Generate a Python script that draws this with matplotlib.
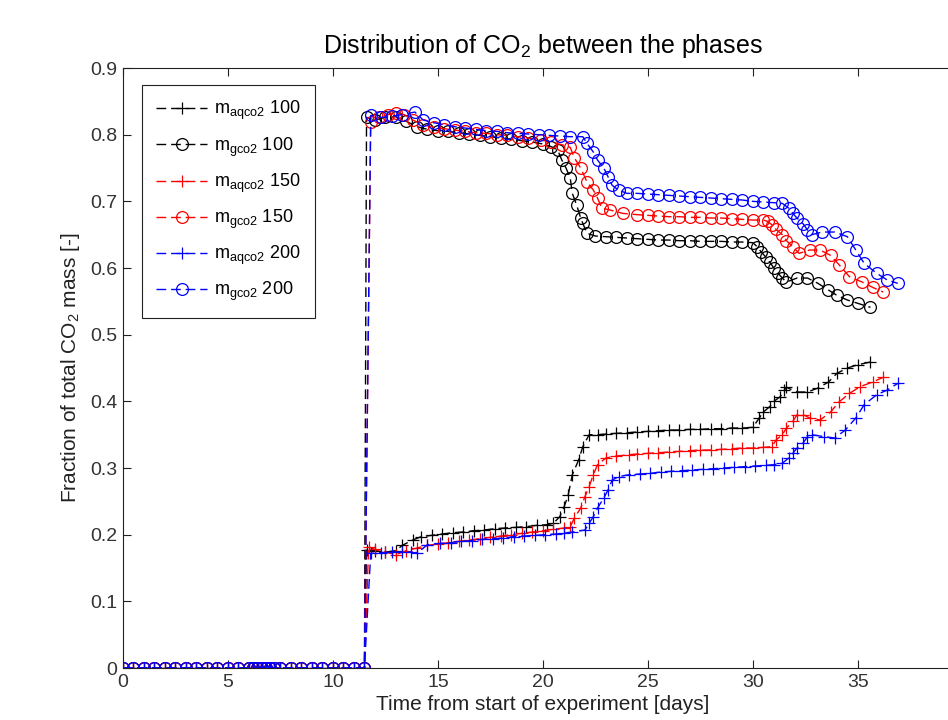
import matplotlib
matplotlib.use("Agg")
import matplotlib.pyplot as plt

plt.rcParams['font.family'] = ['Liberation Sans', 'DejaVu Sans']
plt.rcParams['mathtext.fontset'] = 'custom'
plt.rcParams['mathtext.rm'] = 'Liberation Sans'

# time before the CO2 injection (all masses zero)
t_pre = [0.0, 0.5, 1.0, 1.5, 2.0, 2.5, 3.0, 3.5, 4.0, 4.5, 5.0, 5.5, 6.0, 6.2,
         6.4, 6.6, 6.8, 7.0, 7.2, 7.5, 8.0, 8.5, 9.0, 9.5, 10.0, 10.5, 11.0, 11.5]
v_pre = [0.0, 0.0, 0.0, 0.0, 0.0, 0.0, 0.0, 0.0, 0.0, 0.0, 0.0, 0.0, 0.0, 0.0,
         0.0, 0.0, 0.0, 0.0, 0.0, 0.0, 0.0, 0.0, 0.0, 0.0, 0.0, 0.0, 0.0, 0.0]

# case 100
t_g100 = [11.6, 12.0, 12.5, 13.0, 13.5, 14.0, 14.5, 15.0, 15.5, 16.0, 16.5, 17.0,
          17.5, 18.0, 18.5, 19.0, 19.5, 20.0, 20.4, 20.7, 20.9, 21.1, 21.3, 21.4,
          21.6, 21.8, 21.9, 22.1, 22.5, 23.0, 23.5, 24.0, 24.5, 25.0, 25.5, 26.0,
          26.5, 27.0, 27.5, 28.0, 28.5, 29.0, 29.5, 30.0, 30.2, 30.4, 30.6, 30.8,
          31.0, 31.2, 31.4, 31.6, 32.1, 32.6, 33.1, 33.6, 34.0, 34.5, 35.0, 35.6]
m_g100 = [0.826, 0.822, 0.826, 0.827, 0.820, 0.812, 0.808, 0.806, 0.805, 0.803,
          0.801, 0.799, 0.797, 0.795, 0.793, 0.791, 0.789, 0.786, 0.782, 0.777,
          0.762, 0.750, 0.735, 0.712, 0.695, 0.675, 0.667, 0.652, 0.648, 0.647,
          0.646, 0.645, 0.644, 0.643, 0.642, 0.642, 0.641, 0.641, 0.640, 0.640,
          0.640, 0.639, 0.639, 0.638, 0.632, 0.624, 0.617, 0.609, 0.600, 0.592,
          0.585, 0.579, 0.585, 0.585, 0.577, 0.567, 0.559, 0.552, 0.547, 0.541]

t_aq100 = [11.6, 12.0, 12.5, 13.0, 13.3, 13.8, 14.2, 14.7, 15.2, 15.7, 16.2, 16.7,
           17.2, 17.7, 18.2, 18.7, 19.2, 19.7, 20.2, 20.5, 20.8, 21.0, 21.2, 21.4,
           21.7, 21.9, 22.2, 22.6, 23.0, 23.5, 24.0, 24.5, 25.0, 25.5, 26.0, 26.5,
           27.0, 27.5, 28.0, 28.5, 29.0, 29.5, 30.0, 30.3, 30.5, 30.8, 31.0, 31.3,
           31.5, 31.6, 32.1, 32.6, 33.1, 33.6, 34.0, 34.5, 35.0, 35.6]
m_aq100 = [0.177, 0.176, 0.174, 0.176, 0.184, 0.192, 0.197, 0.199, 0.201, 0.203,
           0.204, 0.206, 0.207, 0.209, 0.210, 0.211, 0.212, 0.214, 0.215, 0.217,
           0.227, 0.241, 0.259, 0.290, 0.312, 0.332, 0.350, 0.350, 0.351, 0.352,
           0.353, 0.354, 0.355, 0.356, 0.357, 0.357, 0.358, 0.358, 0.359, 0.359,
           0.360, 0.360, 0.361, 0.375, 0.384, 0.392, 0.400, 0.407, 0.417, 0.421,
           0.414, 0.414, 0.420, 0.429, 0.442, 0.450, 0.455, 0.459]

# case 150
t_g150 = [11.8, 12.2, 12.6, 13.0, 13.4, 13.8, 14.3, 14.8, 15.3, 15.8, 16.3, 16.8,
          17.3, 17.8, 18.3, 18.8, 19.3, 19.9, 20.4, 20.9, 21.3, 21.5, 21.8, 22.1,
          22.4, 22.6, 22.8, 23.2, 23.8, 24.5, 25.0, 25.5, 26.0, 26.5, 27.0, 27.5,
          28.0, 28.5, 29.0, 29.5, 30.0, 30.5, 30.7, 30.9, 31.1, 31.4, 31.6, 31.9,
          32.2, 32.7, 33.2, 33.7, 34.1, 34.6, 35.2, 35.7, 36.2]
m_g150 = [0.819, 0.826, 0.830, 0.832, 0.830, 0.822, 0.815, 0.811, 0.809, 0.807,
          0.805, 0.803, 0.802, 0.800, 0.799, 0.797, 0.795, 0.792, 0.789, 0.785,
          0.781, 0.765, 0.750, 0.729, 0.717, 0.705, 0.690, 0.687, 0.682, 0.680,
          0.679, 0.678, 0.677, 0.677, 0.676, 0.676, 0.675, 0.675, 0.674, 0.673,
          0.672, 0.672, 0.670, 0.665, 0.658, 0.650, 0.641, 0.632, 0.622, 0.627,
          0.627, 0.619, 0.605, 0.587, 0.579, 0.571, 0.564]

t_aq150 = [11.7, 12.0, 12.5, 13.0, 13.5, 14.0, 14.5, 15.0, 15.5, 16.0, 16.5, 17.0,
           17.5, 18.0, 18.5, 19.0, 19.5, 20.0, 20.5, 21.0, 21.3, 21.5, 21.8, 22.0,
           22.2, 22.4, 22.6, 23.0, 23.5, 24.1, 24.5, 25.0, 25.5, 26.0, 26.5, 27.0,
           27.5, 28.0, 28.5, 29.0, 29.5, 30.0, 30.5, 30.9, 31.1, 31.4, 31.6, 31.9,
           32.1, 32.4, 32.7, 33.2, 33.7, 34.1, 34.6, 35.1, 35.7, 36.2]
m_aq150 = [0.182, 0.178, 0.174, 0.170, 0.176, 0.180, 0.184, 0.186, 0.188, 0.190,
           0.192, 0.194, 0.196, 0.198, 0.200, 0.202, 0.204, 0.206, 0.208, 0.210,
           0.212, 0.225, 0.240, 0.257, 0.272, 0.290, 0.305, 0.315, 0.318, 0.320,
           0.321, 0.322, 0.323, 0.324, 0.325, 0.326, 0.327, 0.327, 0.328, 0.329,
           0.330, 0.330, 0.331, 0.332, 0.342, 0.350, 0.360, 0.370, 0.380, 0.380,
           0.375, 0.372, 0.384, 0.399, 0.412, 0.422, 0.429, 0.436]

# case 200
t_g200 = [11.8, 12.3, 12.8, 13.3, 13.9, 14.3, 14.8, 15.3, 15.8, 16.3, 16.8, 17.3,
          17.8, 18.3, 18.8, 19.3, 19.8, 20.3, 20.8, 21.3, 21.9, 22.1, 22.4, 22.6,
          22.9, 23.1, 23.3, 23.6, 24.0, 24.5, 25.0, 25.5, 26.0, 26.5, 27.0, 27.5,
          28.0, 28.5, 29.0, 29.5, 30.0, 30.5, 31.0, 31.4, 31.7, 31.9, 32.1, 32.4,
          32.6, 32.8, 33.3, 33.9, 34.5, 34.9, 35.3, 35.9, 36.4, 36.9]
m_g200 = [0.829, 0.826, 0.828, 0.830, 0.834, 0.822, 0.818, 0.815, 0.812, 0.810,
          0.808, 0.806, 0.805, 0.803, 0.802, 0.801, 0.800, 0.799, 0.798, 0.797,
          0.797, 0.787, 0.774, 0.762, 0.750, 0.737, 0.724, 0.717, 0.712, 0.712,
          0.711, 0.710, 0.709, 0.708, 0.707, 0.706, 0.705, 0.704, 0.703, 0.702,
          0.700, 0.699, 0.698, 0.697, 0.690, 0.682, 0.675, 0.666, 0.657, 0.650,
          0.654, 0.654, 0.647, 0.627, 0.607, 0.592, 0.582, 0.577]

t_aq200 = [11.8, 12.3, 12.8, 13.3, 13.7, 14.0, 14.5, 15.1, 15.6, 16.1, 16.6, 17.1,
           17.6, 18.1, 18.6, 19.1, 19.6, 20.1, 20.6, 21.0, 21.4, 22.0, 22.2, 22.4,
           22.6, 22.9, 23.1, 23.3, 23.6, 24.1, 24.6, 25.1, 25.6, 26.1, 26.6, 27.1,
           27.6, 28.1, 28.6, 29.1, 29.6, 30.1, 30.6, 31.0, 31.4, 31.7, 31.9, 32.1,
           32.4, 32.6, 32.8, 33.4, 33.9, 34.4, 34.9, 35.3, 35.9, 36.4, 36.9]
m_aq200 = [0.172, 0.173, 0.174, 0.174, 0.174, 0.172, 0.185, 0.187, 0.188, 0.190,
           0.191, 0.193, 0.194, 0.195, 0.197, 0.198, 0.199, 0.200, 0.201, 0.202,
           0.204, 0.207, 0.217, 0.227, 0.240, 0.255, 0.267, 0.282, 0.287, 0.290,
           0.291, 0.292, 0.294, 0.295, 0.296, 0.297, 0.298, 0.299, 0.300, 0.301,
           0.302, 0.303, 0.304, 0.305, 0.307, 0.315, 0.322, 0.330, 0.338, 0.347,
           0.350, 0.347, 0.345, 0.357, 0.375, 0.395, 0.410, 0.417, 0.427]

series = [
    (t_aq100, m_aq100, 'k', '+', r'$\mathregular{m_{aqco2}}$ 100'),
    (t_g100, m_g100, 'k', 'o', r'$\mathregular{m_{gco2}}$ 100'),
    (t_aq150, m_aq150, 'r', '+', r'$\mathregular{m_{aqco2}}$ 150'),
    (t_g150, m_g150, 'r', 'o', r'$\mathregular{m_{gco2}}$ 150'),
    (t_aq200, m_aq200, 'b', '+', r'$\mathregular{m_{aqco2}}$ 200'),
    (t_g200, m_g200, 'b', 'o', r'$\mathregular{m_{gco2}}$ 200'),
]

fig = plt.figure(figsize=(9.48, 7.2), dpi=100)
# axes run to 40 days, the right part is cut off like in the original picture
ax = fig.add_axes([0.1297, 0.0722, 0.886, 0.8333])

for t, m, c, mk, lab in series:
    ax.plot(t_pre + t, v_pre + m, color=c, linestyle=(0, (7, 3.5)), linewidth=1.0,
            marker=mk, markersize=9 if mk == '+' else 8.5, markerfacecolor='none',
            markeredgewidth=0.9, label=lab)

ax.set_xlim(0, 40)
ax.set_ylim(0, 0.9)
ax.set_xticks(range(0, 36, 5))
ax.set_yticks([0, 0.1, 0.2, 0.3, 0.4, 0.5, 0.6, 0.7, 0.8, 0.9])
ax.yaxis.set_major_formatter(matplotlib.ticker.FormatStrFormatter('%g'))
ax.tick_params(direction='in', top=True, right=True, length=6, labelsize=14,
               labelcolor='#333333', color='#222222', width=0.8, pad=4)
for s in ax.spines.values():
    s.set_linewidth(0.8)
    s.set_color('#222222')

ax.set_title(r'Distribution of CO$_2$ between the phases', fontsize=18, pad=11)
ax.set_xlabel('Time from start of experiment [days]', fontsize=15, labelpad=3,
              color='#222222')
ax.set_ylabel(r'Fraction of total CO$_2$ mass [-]', fontsize=15, labelpad=6,
              color='#222222')

leg = ax.legend(loc='upper left', bbox_to_anchor=(0.0226, 0.972), borderaxespad=0,
                fontsize=13, handlelength=2.8, handletextpad=0.4, numpoints=1,
                labelspacing=0.72, fancybox=False, framealpha=1,
                edgecolor='#222222', borderpad=0.8)
leg.get_frame().set_linewidth(0.8)

fig.savefig('out.png', dpi=100)
